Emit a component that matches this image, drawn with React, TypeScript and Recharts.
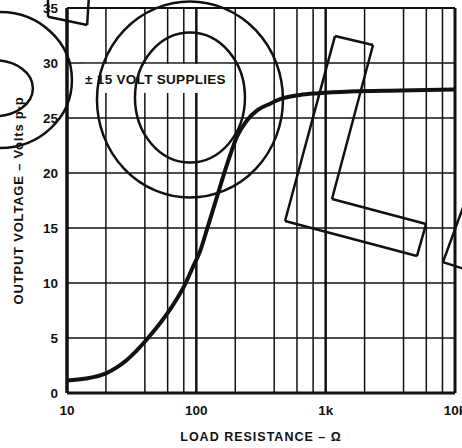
import { Label, Line, LineChart, ReferenceDot, ReferenceLine, XAxis, YAxis } from "recharts";

// load resistance (ohms) and output voltage (V p-p)
const resistance = [10, 14, 20, 29, 42, 63, 82, 94, 107, 121, 145, 173, 206, 247, 295, 372, 468, 633, 873, 1540, 3760, 10000];
const voltage = [1.14, 1.32, 1.79, 3.0, 4.95, 7.64, 9.9, 11.45, 12.9, 14.9, 17.9, 20.8, 23.3, 24.8, 25.7, 26.3, 26.8, 27.1, 27.25, 27.41, 27.5, 27.59];

const xTicks = [10, 100, 1000, 10000];
const xTickLabels = ["10", "100", "1k", "10k"];
const yTicks = [0, 5, 10, 15, 20, 25, 30, 35];
const majorX = [100, 1000];
const minorX = [20, 40, 60, 80, 200, 400, 600, 800, 2000, 4000, 6000, 8000];
const gridY = [5, 10, 15, 20, 25, 30];

// scribbles printed over the scan, placed in data units
const rings = [
  { r: 89.3, v: 26.68, rx: 93, ry: 98 },
  { r: 89.3, v: 26.86, rx: 55, ry: 65 },
  { r: 3.03, v: 28.45, rx: 72, ry: 68 },
  { r: 2.77, v: 27.7, rx: 38, ry: 28 },
];
const strokes: number[][][] = [
  [[7.13, 36.2], [7.13, 34.2], [14.3, 33.45], [14.8, 36.2]],
  [[1180, 32.45], [2323, 31.64], [1119, 17.64], [5970, 15.36], [5080, 12.45], [485, 15.64], [1180, 32.45]],
  [[13060, 18.6], [8070, 11.9], [13060, 11.1]],
];

const data = resistance.map((r, i) => ({ r, v: voltage[i] }));
const FONT = "'Liberation Sans', Arial, sans-serif";
const INK = "#111";

export default function App() {
  const tickStyle = { fill: INK, fontSize: 13.5, fontWeight: 700, fontFamily: FONT };

  return (
    <div style={{ width: 462, height: 448, background: "#fff" }}>
      <style>{"body{margin:0;background:#fff}"}</style>
      <LineChart width={462} height={448} data={data} margin={{ top: 8, right: 7, bottom: 0, left: 0 }}>
        <XAxis
          dataKey="r"
          type="number"
          scale="log"
          domain={[10, 10000]}
          allowDataOverflow
          ticks={xTicks}
          tickFormatter={(v: number) => xTickLabels[xTicks.indexOf(v)] ?? String(v)}
          interval={0}
          height={55}
          tickSize={0}
          tickMargin={12}
          axisLine={{ stroke: INK, strokeWidth: 3 }}
          tick={tickStyle}
        >
          <Label
            content={({ viewBox }: any) => (
              <text
                x={viewBox.x + viewBox.width / 2}
                y={441}
                textAnchor="middle"
                fill={INK}
                fontFamily={FONT}
                fontWeight={700}
                fontSize={12.5}
                letterSpacing={1}
              >
                LOAD RESISTANCE – Ω
              </text>
            )}
          />
        </XAxis>
        <YAxis
          type="number"
          domain={[0, 35]}
          ticks={yTicks}
          interval={0}
          width={67}
          tickSize={0}
          tickMargin={9}
          axisLine={{ stroke: INK, strokeWidth: 3.5 }}
          tick={tickStyle}
        >
          <Label
            content={({ viewBox }: any) => {
              const cx = 18;
              const cy = viewBox.y + viewBox.height / 2;
              return (
                <text
                  x={cx}
                  y={cy}
                  transform={`rotate(-90 ${cx} ${cy})`}
                  textAnchor="middle"
                  dominantBaseline="central"
                  fill={INK}
                  fontFamily={FONT}
                  fontWeight={700}
                  fontSize={13}
                  letterSpacing={0.8}
                >
                  OUTPUT VOLTAGE – Volts p-p
                </text>
              );
            }}
          />
        </YAxis>

        {gridY.map((y) => (
          <ReferenceLine key={`gy${y}`} y={y} stroke={INK} strokeWidth={1.5} />
        ))}
        {minorX.map((x) => (
          <ReferenceLine key={`mx${x}`} x={x} stroke={INK} strokeWidth={1.5} />
        ))}
        {majorX.map((x) => (
          <ReferenceLine key={`Mx${x}`} x={x} stroke={INK} strokeWidth={2.5} />
        ))}
        <ReferenceLine y={35} stroke={INK} strokeWidth={2} />
        <ReferenceLine x={10000} stroke={INK} strokeWidth={3} />

        <ReferenceDot
          x={13.8}
          y={28.1}
          ifOverflow="visible"
          shape={(p: any) => (
            <g>
              <rect x={p.cx - 2} y={p.cy - 20} width={146} height={29} fill="#fff" />
              <text
                x={p.cx}
                y={p.cy}
                fill={INK}
                fontFamily={FONT}
                fontWeight={700}
                fontSize={13.5}
                letterSpacing={0.3}
              >
                ± 15 VOLT SUPPLIES
              </text>
            </g>
          )}
        />

        {rings.map((c, i) => (
          <ReferenceDot
            key={`ring${i}`}
            x={c.r}
            y={c.v}
            ifOverflow="visible"
            shape={(p: any) => (
              <ellipse cx={p.cx} cy={p.cy} rx={c.rx} ry={c.ry} fill="none" stroke={INK} strokeWidth={2.5} />
            )}
          />
        ))}

        <Line
          dataKey="v"
          type="monotone"
          stroke={INK}
          strokeWidth={4}
          dot={false}
          activeDot={false}
          isAnimationActive={false}
        />

        {strokes.flatMap((pts, i) =>
          pts.slice(1).map((pt, j) => (
            <ReferenceLine
              key={`s${i}-${j}`}
              ifOverflow="visible"
              segment={[
                { x: pts[j][0], y: pts[j][1] },
                { x: pt[0], y: pt[1] },
              ]}
              stroke={INK}
              strokeWidth={2.5}
            />
          )),
        )}
      </LineChart>
    </div>
  );
}
